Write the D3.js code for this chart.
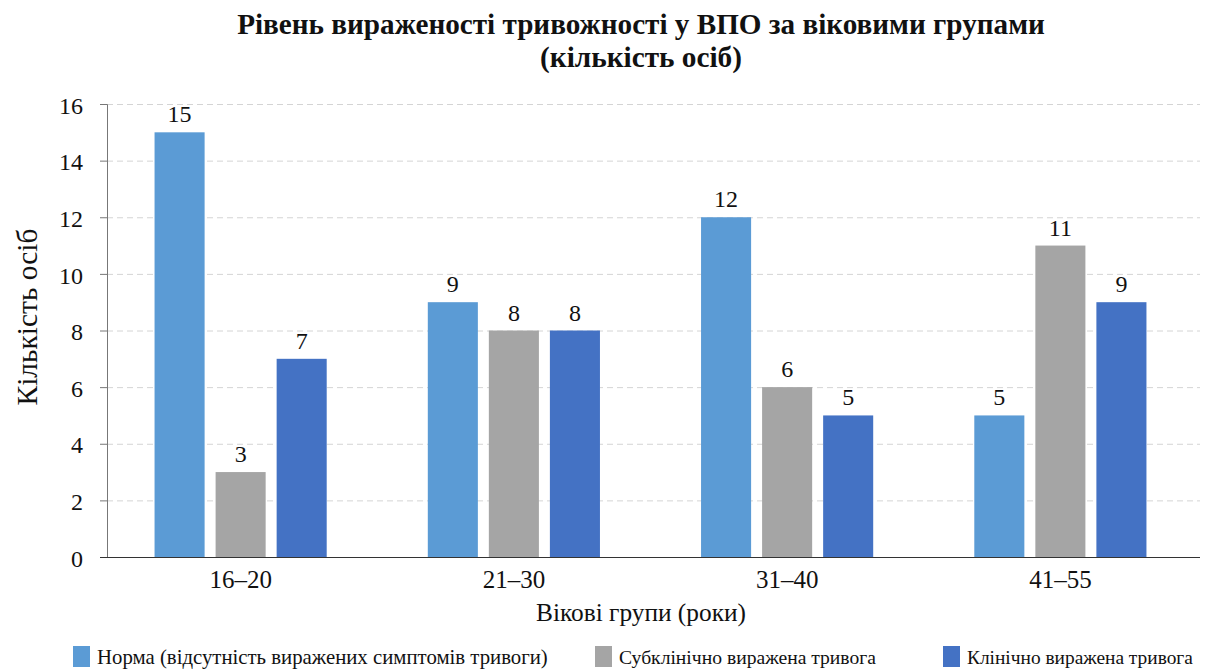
<!DOCTYPE html>
<html><head><meta charset="utf-8">
<script src="https://cdn.jsdelivr.net/npm/d3@7"></script>
</head><body style="margin:0"><svg id="c" width="1205" height="671"></svg>
<script>
const categories = ["16–20","21–30","31–40","41–55"];
const seriesNames = ["Норма (відсутність виражених симптомів тривоги)","Субклінічно виражена тривога","Клінічно виражена тривога"];
const norma = [15,9,12,5];
const subclinical = [3,8,6,11];
const clinical = [7,8,5,9];
const yTicks = [0,2,4,6,8,10,12,14,16];
const colors = ["#5B9BD5","#A5A5A5","#4472C4"];
const series = [norma, subclinical, clinical];
const FONT = "Liberation Serif, Tinos, Times New Roman, serif";

const svg = d3.select("#c");
const x0 = d3.scaleBand().domain(categories).range([104,1197]).paddingInner(0.37).paddingOuter(0.185);
const x1 = d3.scaleBand().domain([0,1,2]).range([0,x0.bandwidth()]).paddingInner(0.18).paddingOuter(0);
const y = d3.scaleLinear().domain([0,16]).range([557,104]);

function fit(sel, target){
  const w = sel.node().getComputedTextLength();
  const fs = +sel.attr("font-size");
  if (w > 0) sel.attr("font-size", (fs*target/w).toFixed(2));
  return sel;
}
function label(parent, x, yv, txt, size, opts){
  opts = opts || {};
  const s = parent.append("text").attr("x",x).attr("y",yv).attr("font-size",size)
    .attr("font-family",FONT).attr("fill","#111")
    .attr("text-anchor",opts.anchor||"middle").text(txt);
  if (opts.bold) s.attr("font-weight","bold");
  if (opts.transform) s.attr("transform",opts.transform);
  return s;
}

svg.append("g").selectAll("line").data(yTicks.slice(1)).join("line")
  .attr("x1",107).attr("x2",1200).attr("y1",d=>y(d)+0.5).attr("y2",d=>y(d)+0.5)
  .attr("stroke","#d4d4d4").attr("stroke-dasharray","6,4");

const g = svg.append("g");
categories.forEach((c,ci)=>{
  series.forEach((s,si)=>{
    g.append("rect").attr("x",x0(c)+x1(si)).attr("width",x1.bandwidth())
      .attr("y",y(s[ci])).attr("height",y(0)-y(s[ci])).attr("fill",colors[si]);
    label(g, x0(c)+x1(si)+x1.bandwidth()/2, y(s[ci])-10, s[ci], 24);
  });
});

const ya = svg.append("g").attr("transform","translate(107,0)")
  .call(d3.axisLeft(y).tickValues(yTicks).tickSize(7).tickPadding(17));
ya.attr("font-family",FONT);
ya.select(".domain").attr("stroke","#777");
ya.selectAll(".tick line").attr("stroke","#777");
ya.selectAll("text").attr("font-size",24).attr("fill","#111").attr("font-family",FONT).attr("dy","0.38em");

const xa = svg.append("g").attr("transform","translate(0,557)")
  .call(d3.axisBottom(x0).tickSize(0).tickPadding(13));
xa.attr("font-family",FONT);
xa.select(".domain").attr("stroke","#333").attr("d","M100,0.5H1200");
xa.selectAll("text").attr("font-size",25).attr("fill","#111").attr("font-family",FONT);

fit(label(svg, 641, 34, "Рівень вираженості тривожності у ВПО за віковими групами", 26, {bold:true}), 808);
fit(label(svg, 641, 67, "(кількість осіб)", 26, {bold:true}), 202);
fit(label(svg, 641, 621, "Вікові групи (роки)", 25), 210);
fit(label(svg, 0, 0, "Кількість осіб", 26, {transform:"translate(37,317) rotate(-90)"}), 177);

const legX = [73,595,943];
const legW = [451,257,226];
seriesNames.forEach((n,i)=>{
  svg.append("rect").attr("x",legX[i]).attr("y",646).attr("width",17).attr("height",21).attr("fill",colors[i]);
  fit(label(svg, legX[i]+24, 664, n, 19, {anchor:"start"}), legW[i]);
});
</script></body></html>
